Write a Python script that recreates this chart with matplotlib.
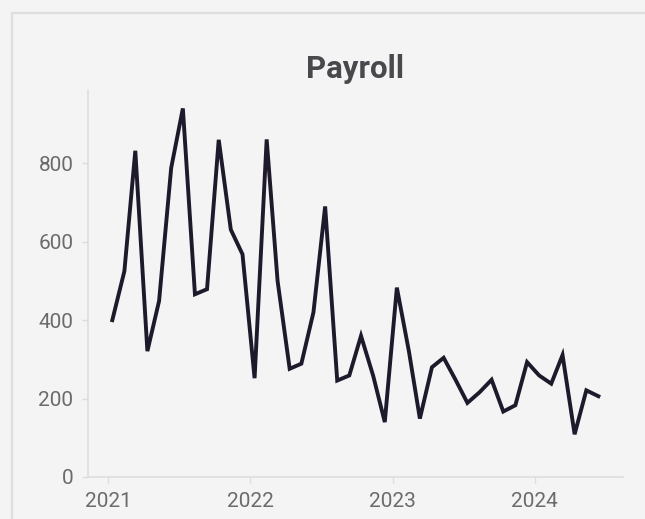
import numpy as np
import pandas as pd
import matplotlib
matplotlib.use("Agg")
import matplotlib.pyplot as plt
import matplotlib.dates as mdates
from matplotlib.lines import Line2D

plt.rcParams['font.family'] = ['Roboto', 'DejaVu Sans']

# monthly payroll, Jan 2021 - Jun 2024
months = pd.date_range('2021-01-01', periods=42, freq='MS') + pd.Timedelta(days=11)
payroll = [400, 525, 832, 321, 449, 788, 940, 466, 479, 860, 631, 568,
           252, 861, 500, 276, 289, 420, 690, 246, 259, 360, 259, 140,
           483, 320, 149, 280, 304, 247, 189, 216, 248, 167, 183, 293,
           259, 238, 311, 109, 221, 206]

bg = '#f4f4f4'
grid_col = '#dcdcdc'
text_col = '#6b6b6b'

fig = plt.figure(figsize=(6.45, 5.19), dpi=100, facecolor=bg)
ax = fig.add_axes([88/645, 1 - 477/519, (622.7 - 88)/645, (477 - 90)/519])
ax.set_facecolor(bg)

ax.plot(months, payroll, color='#1e1a2b', lw=2.8, solid_joinstyle='miter')

ax.set_ylim(0, max(payroll) * 1.05)
ax.margins(x=0.05)
ax.set_yticks([0, 200, 400, 600, 800])
ax.xaxis.set_major_locator(mdates.YearLocator())
ax.xaxis.set_major_formatter(mdates.DateFormatter('%Y'))

for s in ['top', 'right']:
    ax.spines[s].set_visible(False)
for s in ['left', 'bottom']:
    ax.spines[s].set_color(grid_col)
    ax.spines[s].set_linewidth(1.1)

ax.tick_params(colors=grid_col, labelcolor=text_col, labelsize=15,
               length=4.5, width=1, pad=6)

ax.set_title('Payroll', fontsize=22.5, fontweight='bold', color='#48484d', pad=8.4)

# card outline
fig.add_artist(Line2D([11.5/645, 11.5/645, 1.0], [0, 1 - 13/519, 1 - 13/519],
                      transform=fig.transFigure, color='#dedede', lw=1.6))

fig.savefig('out.png', dpi=100, facecolor=bg)
